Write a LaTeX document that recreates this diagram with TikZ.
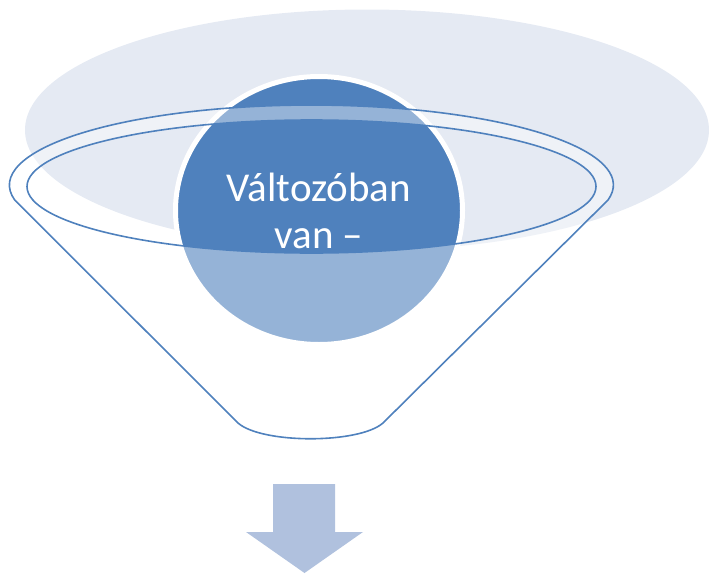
\documentclass[tikz,border=0pt]{standalone}
\usepackage{fontspec}
\setmainfont{Carlito}
\usetikzlibrary{shapes.geometric}
\definecolor{accentblue}{RGB}{79,129,189}
\definecolor{hazeblue}{RGB}{229,234,243}
\definecolor{arrowblue}{RGB}{176,193,222}
\tikzset{
  funnelline/.style={draw=accentblue, line width=1.6pt},
  funnelglass/.style={fill=white, fill opacity=0.4, even odd rule},
}

\begin{document}
\begin{tikzpicture}[x=1pt,y=1pt]
	%%%%% START %%%%%
	\useasboundingbox (0,0) rectangle (709,-573);
	
	\fill[hazeblue] (367,-130) ellipse (342 and 120.5);
	
	\node[ellipse, draw=white, line width=5pt, fill=accentblue, minimum width=287pt, minimum height=268pt, inner sep=0pt, text=white, align=center, font=\fontsize{41}{47}\selectfont] (core) at (319,-210.5) {Változóban\\van --};
	
	\path[funnelline, funnelglass] (608,-200) arc[start angle=-10.8, end angle=190.8, x radius=302, y radius=80]
		-- (238,-423) .. controls (262,-444) and (359,-444) .. (383,-423) -- cycle
		(311.5,-186.5) ellipse (284.5 and 66.5);
	
	\fill[arrowblue] (273,-484) -- (335,-484) -- (335,-532) -- (363,-532) -- (304.5,-573) -- (246,-532) -- (273,-532) -- cycle;
	%%%%% END %%%%%
\end{tikzpicture}
\end{document}
